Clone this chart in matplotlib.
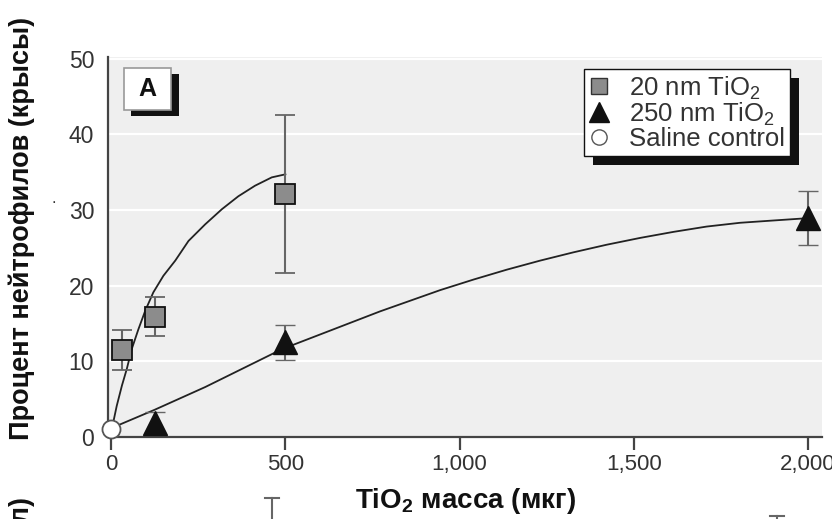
import matplotlib
matplotlib.use("Agg")
import matplotlib.pyplot as plt
from matplotlib.patches import Rectangle
from matplotlib.lines import Line2D
from matplotlib.transforms import IdentityTransform
from matplotlib.ticker import FuncFormatter

# ---- data ----
nm20_x = [31, 125, 500]
nm20_y = [11.5, 15.9, 32.1]
nm20_err = [2.6, 2.6, 10.5]

nm250_x = [125, 500, 2000]
nm250_y = [1.8, 12.5, 28.9]
nm250_err = [1.5, 2.3, 3.6]

saline_x = [0]
saline_y = [1.0]

# fitted curves
fit20_x = [2, 16, 31, 45, 59, 78, 98, 121, 150, 184, 222, 270, 318, 365, 413, 461, 500]
fit20_y = [1.05, 4.1, 6.8, 9.0, 11.6, 14.2, 16.7, 19.1, 21.3, 23.3, 25.9, 28.1, 30.1, 31.8,
           33.2, 34.3, 34.7]

fit250_x = [2, 125, 270, 490, 772, 944, 1040, 1135, 1231, 1327, 1422, 1518, 1614, 1709,
            1805, 1900, 1996]
fit250_y = [1.2, 3.6, 6.6, 11.6, 16.6, 19.4, 20.8, 22.1, 23.3, 24.4, 25.4, 26.3, 27.1, 27.8,
            28.3, 28.6, 28.9]

x_ticks = [0, 500, 1000, 1500, 2000]
y_ticks = [0, 10, 20, 30, 40, 50]

legend_labels = ["20 nm TiO$_2$", "250 nm TiO$_2$", "Saline control"]
ylabel = "Процент нейтрофилов (крысы)"
xlabel = "TiO$_\\mathbf{2}$ масса (мкг)"

plt.rcParams['font.family'] = ['Liberation Sans', 'DejaVu Sans']
plt.rcParams['mathtext.fontset'] = 'custom'
plt.rcParams['mathtext.rm'] = 'Liberation Sans'
plt.rcParams['mathtext.bf'] = 'Liberation Sans:bold'

W, H = 832, 519
fig = plt.figure(figsize=(W / 100, H / 100), dpi=100)
fig.patch.set_facecolor('white')

L, R, T, B = 108, 822, 57, 437
ax = fig.add_axes([L / W, 1 - B / H, (R - L) / W, (B - T) / H])
ax.set_facecolor('#efefef')
ax.set_xlim(-9, 2040)
ax.set_ylim(0, 50.2)

for s in ['top', 'right']:
    ax.spines[s].set_visible(False)
for s in ['left', 'bottom']:
    ax.spines[s].set_color('#444444')
    ax.spines[s].set_linewidth(1.6)

ax.set_yticks(y_ticks)
ax.set_xticks(x_ticks)
ax.xaxis.set_major_formatter(FuncFormatter(lambda v, p: f"{int(v):,}"))
ax.yaxis.grid(True, color='white', linewidth=1.6)
ax.set_axisbelow(True)
ax.tick_params(axis='y', length=0, pad=10, labelsize=16.5, labelcolor='#333333')
ax.tick_params(axis='x', length=9, width=1.6, color='#444444', pad=3,
               labelsize=16, labelcolor='#333333')

# fit lines
ax.plot(fit20_x, fit20_y, color='#222222', lw=1.3, zorder=3)
ax.plot(fit250_x, fit250_y, color='#222222', lw=1.3, zorder=3)

ekw = dict(ecolor='#666666', elinewidth=1.5, capsize=7, capthick=1.5, linestyle='none', zorder=4)
h1 = ax.errorbar(nm20_x, nm20_y, yerr=nm20_err, marker='s', ms=14, mfc='#8c8c8c',
                 mec='#111111', mew=1.3, **ekw)
h2 = ax.errorbar(nm250_x, nm250_y, yerr=nm250_err, marker='^', ms=17, mfc='#111111',
                 mec='#111111', mew=1, **ekw)
h3, = ax.plot(saline_x, saline_y, marker='o', ms=13, mfc='white', mec='#555555',
              mew=1.3, linestyle='none', zorder=6, clip_on=False)

lh1 = Line2D([], [], marker='s', ms=11, mfc='#8c8c8c', mec='#333333', mew=1, ls='none')
lh2 = Line2D([], [], marker='^', ms=14, mfc='#111111', mec='#111111', ls='none')
lh3 = Line2D([], [], marker='o', ms=11, mfc='white', mec='#555555', mew=1, ls='none')
leg = ax.legend([lh1, lh2, lh3], legend_labels, loc='upper left',
                bbox_to_anchor=((584 - L) / (R - L), (B - 69) / (B - T)),
                borderaxespad=0, fancybox=False, framealpha=1, edgecolor='#111111',
                handlelength=0.8, handletextpad=0.75, labelspacing=-0.05,
                borderpad=0.2, prop={'size': 18.5})
leg.get_frame().set_linewidth(1.0)
for t in leg.get_texts():
    t.set_color('#333333')

ax.set_xlabel(xlabel, fontsize=20, fontweight='bold', color='#111111')
ax.xaxis.set_label_coords(0.5, -0.13)
fig.text(22 / W, 1 - 228 / H, ylabel, rotation=90, ha='center', va='center',
         fontsize=19.5, fontweight='bold', color='#111111')

# panel label "A"
ax.add_patch(Rectangle(((131 - L) / (R - L), (B - 116) / (B - T)), 48 / (R - L), 42 / (B - T),
                       transform=ax.transAxes, facecolor='#111111', edgecolor='none',
                       zorder=7, clip_on=False))
ax.add_patch(Rectangle(((124 - L) / (R - L), (B - 110) / (B - T)), 47 / (R - L), 42 / (B - T),
                       transform=ax.transAxes, facecolor='white', edgecolor='#999999',
                       lw=1.2, zorder=8, clip_on=False))
ax.text((147.5 - L) / (R - L), (B - 89) / (B - T), "A", transform=ax.transAxes,
        ha='center', va='center', fontsize=18, fontweight='bold', color='#111111', zorder=9)

# bits of next panel (cut off at bottom)
fig.text(22 / W, 1 - 497 / H, "Процент нейтрофилов (мл)", rotation=90, ha='center', va='top',
         fontsize=19.5, fontweight='bold', color='#111111')
fig.text(54 / W, 1 - 206 / H, ".", ha='center', va='bottom', fontsize=12, color='#333333')
for cx, cy in [(272, 498), (777, 516)]:
    fig.add_artist(Line2D([(cx - 7) / W, (cx + 7) / W], [1 - cy / H, 1 - cy / H],
                          color='#666666', lw=1.5))
    fig.add_artist(Line2D([cx / W, cx / W], [1 - cy / H, 0], color='#666666', lw=1.5))

# legend shadow
fig.canvas.draw()
bb = leg.get_window_extent()
ax.add_patch(Rectangle((bb.x0 + 9, bb.y0 - 9), bb.width, bb.height, transform=IdentityTransform(),
                       facecolor='#111111', edgecolor='none', zorder=4.5, clip_on=False))
leg.set_zorder(5)

fig.savefig('out.png', dpi=100)
